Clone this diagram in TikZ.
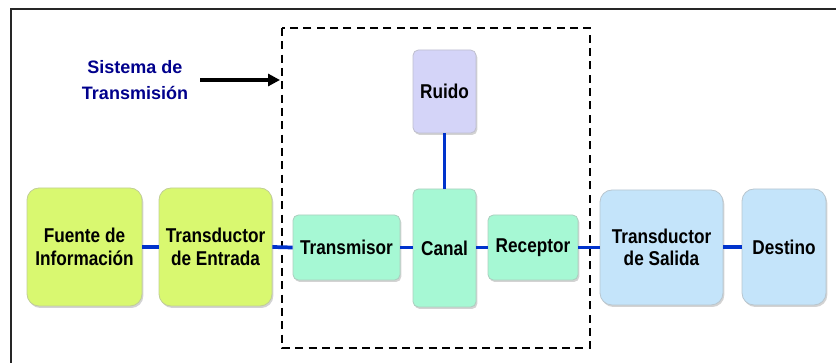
\documentclass[tikz,border=0pt]{standalone}
\usepackage{fontspec}
\setmainfont{Liberation Sans}
\newfontfamily\estrecha[FakeStretch=0.86]{Liberation Sans}
\usetikzlibrary{shadows,arrows.meta}
\definecolor{verdeamar}{HTML}{D9F870}
\definecolor{verdeagua}{HTML}{A6F8D4}
\definecolor{celeste}{HTML}{C4E4FA}
\definecolor{lavanda}{HTML}{D4D4F8}
\definecolor{linea}{HTML}{0033CC}
\definecolor{azultexto}{HTML}{00008C}
\begin{document}
\begin{tikzpicture}[x=0.75pt,y=-0.75pt,
        bloque/.style={draw=#1!70!black!60, fill=#1, line width=0.6pt, rounded corners=9pt,
            align=center, inner sep=0pt, font=\fontsize{15}{17}\estrecha\bfseries,
            drop shadow={opacity=0.35, shadow xshift=1pt, shadow yshift=-1.5pt}},
        chico/.style={bloque=#1, rounded corners=4pt},
        enlace/.style={draw=linea, line width=2.8pt}]
        \useasboundingbox (0,0) rectangle (836,363);
        \draw[line width=1.6pt, black!85] (11,363) -- (11,9) -- (836,9);
        \draw[dashed, dash pattern=on 6pt off 4pt, line width=1pt] (282,28) rectangle (590,348);
        % bloques
        \node[bloque=verdeamar, minimum width=86.25pt, minimum height=88.5pt] (fuente) at (84.5,247) {Fuente de\\Información};
        \node[bloque=verdeamar, minimum width=84.75pt, minimum height=88.5pt] (transent) at (215.5,247) {Transductor\\de Entrada};
        \node[chico=verdeagua, minimum width=80.25pt, minimum height=48.75pt] (transmisor) at (346.5,247.5) {Transmisor};
        \node[chico=verdeagua, minimum width=47.25pt, minimum height=88.5pt] (canal) at (444.5,248) {Canal};
        \node[chico=lavanda, minimum width=47.25pt, minimum height=62.25pt] (ruido) at (444.5,91.5) {Ruido};
        \node[chico=verdeagua, minimum width=67.5pt, minimum height=48.75pt] (receptor) at (533,247.5) {Receptor};
        \node[bloque=celeste, minimum width=92.25pt, minimum height=86.25pt] (transsal) at (661.5,247.5) {Transductor\\de Salida};
        \node[bloque=celeste, minimum width=63pt, minimum height=87pt] (destino) at (784,247) {Destino};
        % enlaces
        \draw[enlace] (fuente.east) -- (transent.west);
        \draw[enlace] (transent.east) -- (transmisor.west);
        \draw[enlace] (transmisor.east) -- (canal.west |- transmisor.east);
        \draw[enlace] (canal.east |- receptor.west) -- (receptor.west);
        \draw[enlace] (receptor.east) -- (transsal.west |- receptor.east);
        \draw[enlace] (transsal.east |- destino.west) -- (destino.west);
        \draw[enlace] (ruido.south) -- (canal.north);
        % sistema de transmision
        \node[align=center, text=azultexto, font=\fontsize{13.5}{19.5}\selectfont\bfseries] (sistema) at (135,80) {Sistema de\\Transmisión};
        \coordinate (punta) at (280,80);
        \draw[-{Triangle[length=9pt,width=9pt]}, line width=3pt] (200,80) -- (punta);
\end{tikzpicture}
\end{document}
